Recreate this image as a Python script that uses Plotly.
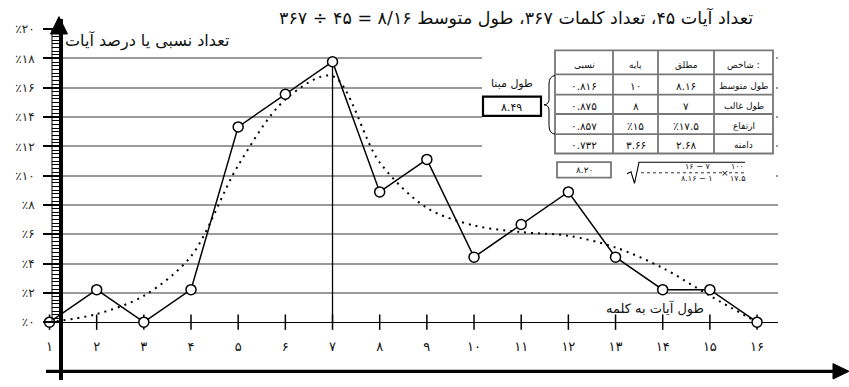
import plotly.graph_objects as go

W, H = 849, 387
FONT = "DejaVu Sans"

# ---------------- data ----------------
word_length = list(range(1, 17))
length_labels = ["۱", "۲", "۳", "۴", "۵", "۶", "۷", "۸", "۹", "۱۰", "۱۱", "۱۲", "۱۳", "۱۴", "۱۵", "۱۶"]
verse_percent = [0, 2.22, 0, 2.22, 13.33, 15.56, 17.78, 8.89, 11.11, 4.44, 6.67, 8.89, 4.44, 2.22, 2.22, 0]
trend_percent = [0, 0.55, 1.8, 4.5, 10.7, 15.2, 16.8, 10.9, 7.8, 6.6, 6.15, 5.9, 5.1, 3.7, 1.8, 0]
y_tick_values = [0, 2, 4, 6, 8, 10, 12, 14, 16, 18, 20]
y_tick_labels = ["٪۰", "٪۲", "٪۴", "٪۶", "٪۸", "٪۱۰", "٪۱۲", "٪۱۴", "٪۱۶", "٪۱۸", "٪۲۰"]
grid_values = [2, 4, 6, 8, 10, 12, 14, 16, 18]

title_text = "تعداد آیات ۴۵، تعداد کلمات ۳۶۷، طول متوسط ۸/۱۶ = ۴۵ ÷ ۳۶۷"
y_title = "تعداد نسبی یا درصد آیات"
x_title = "طول آیات به کلمه"

table_header = ["نسبی", "پایه", "مطلق", "شاخص :"]
table_rows = [
    ["۰.۸۱۶", "۱۰", "۸.۱۶", "طول متوسط"],
    ["۰.۸۷۵", "۸", "۷", "طول غالب"],
    ["۰.۸۵۷", "٪۱۵", "٪۱۷.۵", "ارتفاع"],
    ["۰.۷۳۲", "۳.۶۶", "۲.۶۸", "دامنه"],
]
base_label = "طول مبنا"
base_value = "۸.۴۹"
mean_ratio = "۸.۲۰"
formula_parts = {"num1": "۱۶ − ۷", "den1": "۸.۱۶ − ۱", "num2": "۱۰۰", "den2": "۱۷.۵"}

# ---------------- pixel helpers ----------------
X0PX, XSTEP = 49.5, 47.17        # pixel of x=1, pixels per unit
Y0PX, YSTEP = 327.0, 15.2        # pixel of 0 %, pixels per 1 %
AXIS_X = 61                      # right edge of the vertical axis line


def xd(px):  # pixel -> data x
    return 1 + (px - X0PX) / XSTEP


def yd(py):  # pixel -> data y
    return (Y0PX - py) / YSTEP


def xp(px):
    return px / W


def yp(py):
    return 1 - py / H


shapes = []
annotations = []


def pline(x0, y0, x1, y1, color="black", width=1.3, dash=None, layer="above"):
    ln = dict(color=color, width=width)
    if dash:
        ln["dash"] = dash
    shapes.append(dict(type="line", xref="paper", yref="paper", x0=xp(x0), y0=yp(y0),
                       x1=xp(x1), y1=yp(y1), line=ln, layer=layer))


def prect(x0, y0, x1, y1, color="#777", width=1.8, fill="white", layer="above"):
    shapes.append(dict(type="rect", xref="paper", yref="paper", x0=xp(x0), y0=yp(y0),
                       x1=xp(x1), y1=yp(y1), line=dict(color=color, width=width),
                       fillcolor=fill, layer=layer))


def ppath(points, close=False, fill=None, color="black", width=1.3):
    d = "M " + " L ".join(f"{xp(a):.5f},{yp(b):.5f}" for a, b in points)
    if close:
        d += " Z"
    shapes.append(dict(type="path", xref="paper", yref="paper", path=d,
                       line=dict(color=color, width=width),
                       fillcolor=fill if fill else "rgba(0,0,0,0)", layer="above"))


def txt(x, y, s, size, color="#111", xanchor="center"):
    annotations.append(dict(xref="paper", yref="paper", x=xp(x), y=yp(y), text=s,
                            showarrow=False, xanchor=xanchor, yanchor="middle",
                            font=dict(family=FONT, size=size, color=color)))


fig = go.Figure()

# trend (dotted) curve
fig.add_trace(go.Scatter(x=word_length, y=trend_percent, mode="lines",
                         line=dict(color="black", width=2, dash="2px,5px", shape="spline", smoothing=0.9),
                         cliponaxis=False, hoverinfo="skip", showlegend=False))
# tick crossers on the horizontal axis
fig.add_trace(go.Scatter(x=word_length, y=[0] * len(word_length), mode="markers",
                         marker=dict(symbol="line-ns", size=11, line=dict(color="black", width=1.5)),
                         cliponaxis=False, hoverinfo="skip", showlegend=False))
# observed polygon
fig.add_trace(go.Scatter(x=word_length, y=verse_percent, mode="lines+markers",
                         line=dict(color="black", width=1.5),
                         marker=dict(symbol="circle", size=10, color="white", line=dict(color="black", width=1.5)),
                         cliponaxis=False, showlegend=False))
# category labels between the two horizontal axes
fig.add_trace(go.Scatter(x=word_length, y=[yd(354)] * len(word_length), mode="text",
                         text=length_labels, textfont=dict(family=FONT, size=13, color="#111"),
                         cliponaxis=False, hoverinfo="skip", showlegend=False))
# dummy trace to attach the ruler axis
fig.add_trace(go.Scatter(x=[None], y=[None], yaxis="y2", showlegend=False, hoverinfo="skip"))

# vertical line at the mode
mode_i = verse_percent.index(max(verse_percent))
shapes.append(dict(type="line", xref="x", yref="y", x0=word_length[mode_i], x1=word_length[mode_i],
                   y0=0, y1=verse_percent[mode_i], line=dict(color="black", width=1.3), layer="between"))

# white covers (hide gridlines left of the axis and behind the table)
shapes.append(dict(type="rect", xref="x", yref="y", x0=xd(0), x1=xd(44), y0=yd(387), y1=yd(0),
                   fillcolor="white", line=dict(width=0), layer="between"))
shapes.append(dict(type="rect", xref="x", yref="y", x0=xd(482), x1=xd(776), y0=yd(188), y1=yd(38),
                   fillcolor="white", line=dict(width=0), layer="between"))

# ruler inner line
pline(52, 22, 52, 327, width=1)
# y arrow head
ppath([(59, 10), (50.5, 28), (67.5, 28)], close=True, fill="black", width=1)
# bottom arrow axis
pline(46, 378, 836, 378, width=3.2)
ppath([(849, 378), (833, 370), (833, 386)], close=True, fill="black", width=1)

# ---------------- table ----------------
col_edges = [555, 613, 658, 714, 773]
row_edges = [45, 70, 91, 111, 132, 152]
prect(col_edges[0], row_edges[0], col_edges[-1], row_edges[-1])
for cx in col_edges[1:-1]:
    pline(cx, row_edges[0], cx, row_edges[-1], color="#777", width=1.8)
for ry in row_edges[1:-1]:
    pline(col_edges[0], ry, col_edges[-1], ry, color="#777", width=1.8)
for j, h in enumerate(table_header):
    txt((col_edges[j] + col_edges[j + 1]) / 2, 60, h, 9)
for i, row in enumerate(table_rows):
    cy = (row_edges[i + 1] + row_edges[i + 2]) / 2 + 1.5
    for j, cell in enumerate(row):
        txt((col_edges[j] + col_edges[j + 1]) / 2, cy, cell, 9 if j == 3 else 10.5)

# brace
shapes.append(dict(type="path", xref="paper", yref="paper",
                   path=(f"M {xp(555)},{yp(71)} Q {xp(549)},{yp(72)} {xp(549)},{yp(80)} "
                         f"L {xp(549)},{yp(96)} Q {xp(549)},{yp(101)} {xp(544)},{yp(101.5)} "
                         f"Q {xp(549)},{yp(102)} {xp(549)},{yp(107)} L {xp(549)},{yp(123)} "
                         f"Q {xp(549)},{yp(131)} {xp(555)},{yp(132)}"),
                   line=dict(color="black", width=1), layer="above"))

# base length box
txt(512, 79, base_label, 11)
prect(483, 93, 541, 113, color="black", width=2.2)
txt(512, 104, base_value, 11)

# mean ratio box
prect(557, 161, 611, 177, color="#777", width=1.8)
txt(584, 169, mean_ratio, 9)

# root formula
ppath([(627, 173), (631, 171), (634.5, 183), (639, 161), (745, 161)], width=1.1)
txt(697, 166, formula_parts["num1"], 8)
pline(641, 172, 722, 172, color="#333", width=1, dash="dot")
txt(697, 178, formula_parts["den1"], 8)
txt(725, 172, "×", 9)
txt(737, 166, formula_parts["num2"], 8)
pline(729, 172, 745, 172, color="#333", width=1, dash="dot")
txt(737, 178, formula_parts["den2"], 8)

# titles
txt(516, 11, title_text, 17.5)
txt(147, 35, y_title, 16)
txt(655, 313, x_title, 13)

fig.update_layout(
    width=W, height=H,
    margin=dict(l=0, r=0, t=0, b=0, pad=0),
    paper_bgcolor="white", plot_bgcolor="rgba(0,0,0,0)",
    showlegend=False,
    shapes=shapes, annotations=annotations,
    xaxis=dict(domain=[0, 778 / W], range=[xd(0), xd(778)], showgrid=False,
               zeroline=False, showticklabels=False, ticks="", showline=False, fixedrange=True),
    yaxis=dict(domain=[0, 1 - 12 / H], range=[yd(387), yd(12)], tickvals=grid_values,
               anchor="free", position=AXIS_X / W,
               showticklabels=False, ticks="", showgrid=True, gridcolor="#9a9a9a", gridwidth=1.8,
               zeroline=True, zerolinecolor="black", zerolinewidth=1.3,
               showline=True, linecolor="black", linewidth=4, fixedrange=True),
    yaxis2=dict(domain=[1 - 327 / H, 1 - 23 / H], range=[0, 20], anchor="free", position=AXIS_X / W,
                tickvals=y_tick_values, ticktext=y_tick_labels, ticks="outside", ticklen=18,
                tickwidth=2, tickcolor="black", ticklabelstandoff=6,
                tickfont=dict(family=FONT, size=12, color="#222"),
                minor=dict(dtick=0.25, tick0=0, ticks="outside", ticklen=9, tickwidth=1, tickcolor="black"),
                showgrid=False, zeroline=False, showline=False, fixedrange=True),
)

fig.write_html("out.html", config={"responsive": False, "displayModeBar": False},
               post_script="document.body.style.margin='0';document.body.style.overflow='hidden';")
